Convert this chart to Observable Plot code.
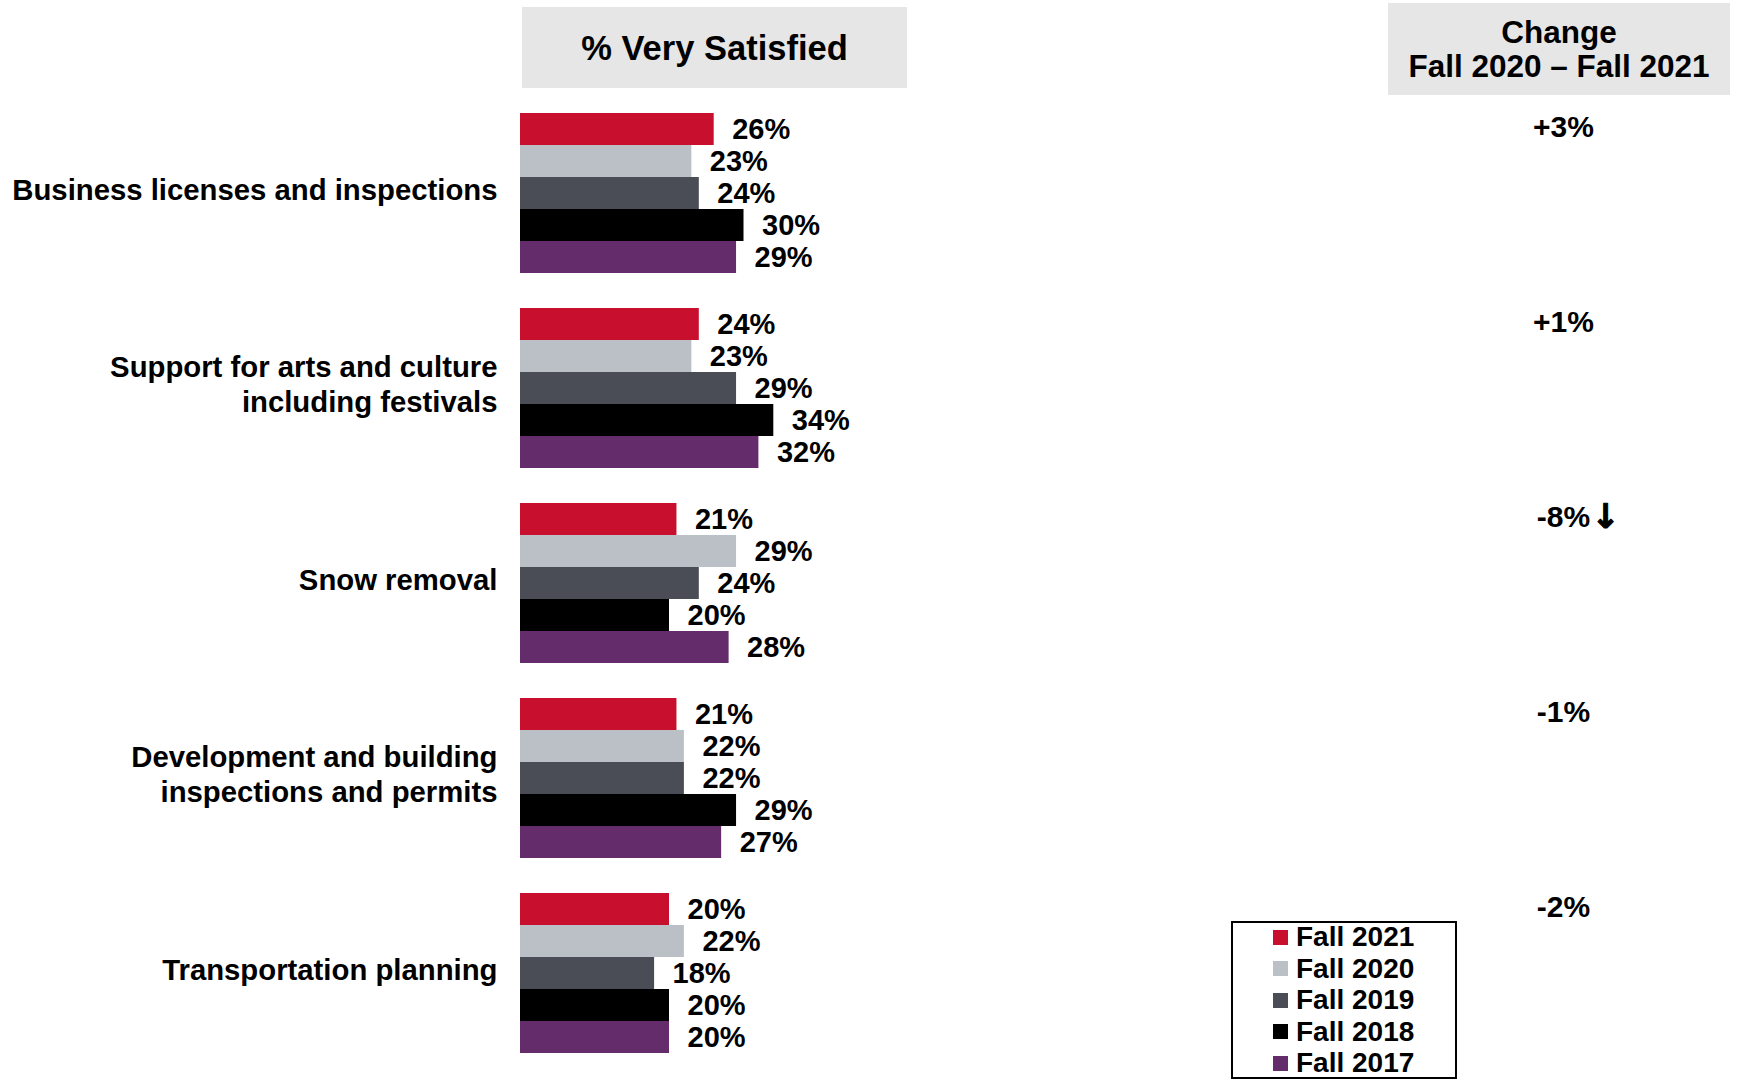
<!DOCTYPE html>
<html>
<head>
<meta charset="utf-8">
<script src="https://cdn.jsdelivr.net/npm/d3@7"></script>
<script src="https://cdn.jsdelivr.net/npm/@observablehq/plot@0.6"></script>
<style>
  html, body { margin: 0; padding: 0; background: #fff; }
  body { font-family: "Liberation Sans", Arial, sans-serif; font-weight: bold; color: #000; }
  #wrap { position: relative; width: 1741px; height: 1080px; overflow: hidden; }
  #wrap svg { position: absolute; left: 0; top: 0; }
  .hdr { position: absolute; background: #e6e6e6; display: flex; align-items: center; justify-content: center; text-align: center; }
  #hdr1 { left: 522px; top: 7px; width: 385px; height: 81px; font-size: 34.5px; padding-top: 2px; box-sizing: border-box; }
  #hdr2 { left: 1388px; top: 3px; width: 342px; height: 92px; font-size: 31.5px; line-height: 34px; }
  #legend { position: absolute; left: 1231px; top: 921px; width: 222px; height: 154px; border: 2px solid #000; background: #fff; }
  .lrow { position: absolute; left: 40px; height: 30px; display: flex; align-items: center; font-size: 28px; }
  .sw { width: 15px; height: 15px; margin-right: 8px; }
</style>
</head>
<body>
<div id="wrap">
  <div class="hdr" id="hdr1">% Very Satisfied</div>
  <div class="hdr" id="hdr2">Change<br>Fall 2020 – Fall 2021</div>
  <div id="legend"></div>
</div>
<script>
// ---- data ----
const categories = [
  "Business licenses and inspections",
  "Support for arts and culture\nincluding festivals",
  "Snow removal",
  "Development and building\ninspections and permits",
  "Transportation planning"
];
const series = ["Fall 2021", "Fall 2020", "Fall 2019", "Fall 2018", "Fall 2017"];
const colors = ["#c8102e", "#bbc0c6", "#4a4d55", "#000000", "#642c6a"];
const fall2021 = [26, 24, 21, 21, 20];
const fall2020 = [23, 23, 29, 22, 22];
const fall2019 = [24, 29, 24, 22, 18];
const fall2018 = [30, 34, 20, 29, 20];
const fall2017 = [29, 32, 28, 27, 20];
const changes = ["+3%", "+1%", "-8%", "-1%", "-2%"];
const changeFlags = ["", "", "↓", "", ""];

// ---- build tables ----
const valuesBySeries = [fall2021, fall2020, fall2019, fall2018, fall2017];
const rows = [];
categories.forEach((cat, i) => {
  series.forEach((s, j) => rows.push({cat, series: s, value: valuesBySeries[j][i]}));
});
const changeRows = categories.map((cat, i) => ({cat, series: series[0], change: changes[i], flag: changeFlags[i]}));

const font = '"Liberation Sans", Arial, sans-serif';

const chart = Plot.plot({
  width: 1741,
  height: 1080,
  marginTop: 112,
  marginBottom: 26,
  marginLeft: 520,
  marginRight: 476,
  style: {fontFamily: font, fontWeight: "bold", background: "transparent", overflow: "visible"},
  x: {domain: [0, 100], axis: null},
  y: {domain: series, padding: 0, axis: null},
  fy: {domain: categories, paddingInner: 0.17, paddingOuter: 0, axis: null},
  color: {domain: series, range: colors},
  marks: [
    Plot.barX(rows, {fy: "cat", y: "series", x: "value", fill: "series"}),
    Plot.text(rows, {fy: "cat", y: "series", x: "value", text: d => d.value + "%",
      textAnchor: "start", dx: 18, dy: 0.5, fontSize: 29, fontWeight: "bold", fill: "#000"}),
    Plot.text(categories, {fy: d => d, text: d => d, frameAnchor: "left", dx: -23, dy: -5,
      textAnchor: "end", fontSize: 29.3, lineHeight: 1.2, fontWeight: "bold", fill: "#000"}),
    Plot.text(changeRows, {fy: "cat", y: "series", text: "change", frameAnchor: "right", dx: 298, dy: -2,
      textAnchor: "middle", fontSize: 30, fontWeight: "bold", fill: "#000"}),
    Plot.text(changeRows, {fy: "cat", y: "series", text: "flag", frameAnchor: "right", dx: 326, dy: -2,
      textAnchor: "start", fontSize: 34, fontWeight: "bold", fontFamily: '"DejaVu Sans", sans-serif',
      stroke: "#000", strokeWidth: 1, fill: "#000"})
  ]
});
document.getElementById("wrap").appendChild(chart);

// legend
const legend = document.getElementById("legend");
series.forEach((s, i) => {
  const row = document.createElement("div");
  row.className = "lrow";
  row.style.top = (-1 + i * 31.6) + "px";
  const sw = document.createElement("div");
  sw.className = "sw";
  sw.style.background = colors[i];
  row.appendChild(sw);
  row.appendChild(document.createTextNode(s));
  legend.appendChild(row);
});
</script>
</body>
</html>
